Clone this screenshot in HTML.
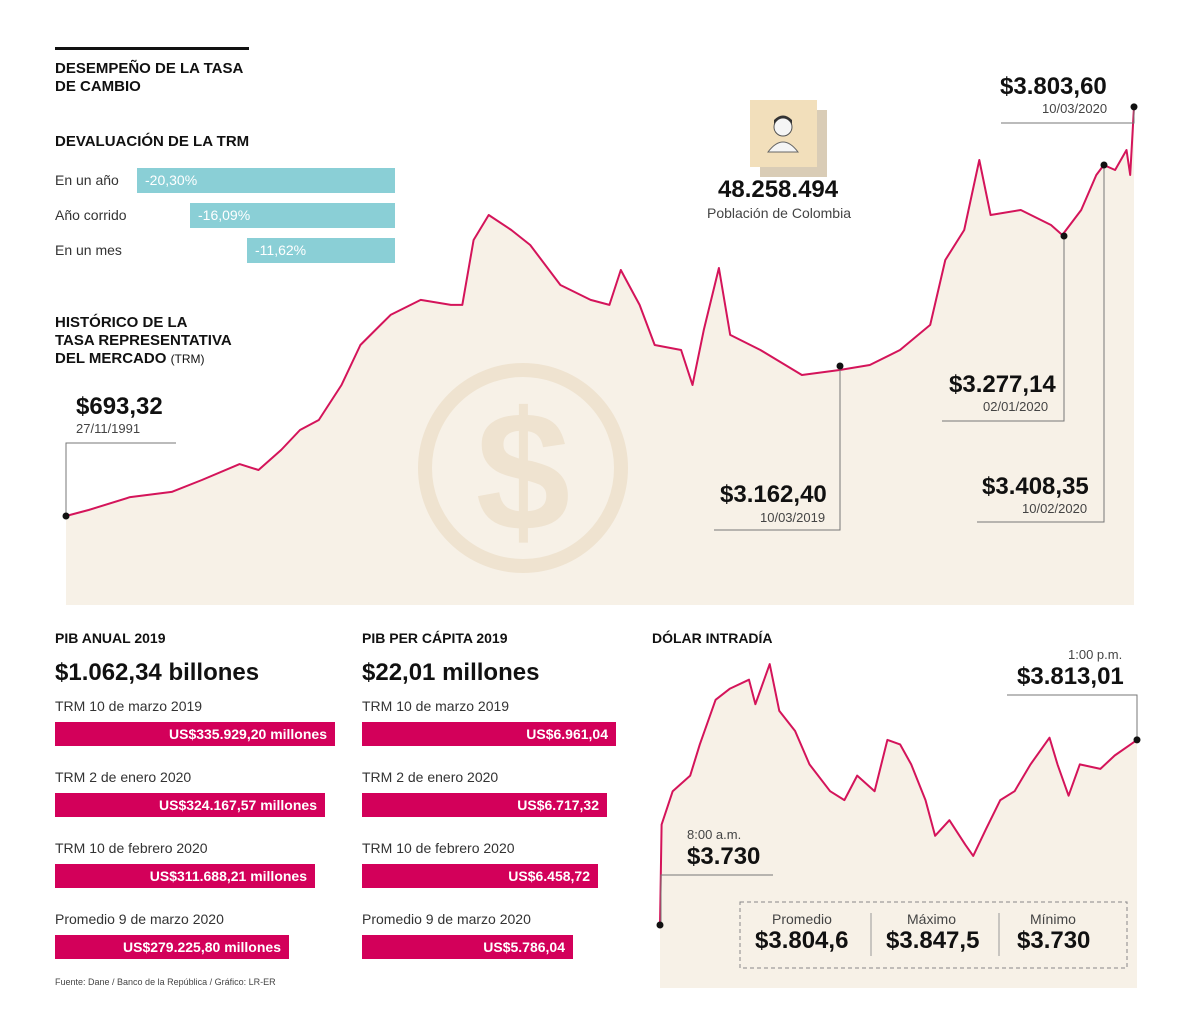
<!DOCTYPE html>
<html><head><meta charset="utf-8">
<style>
body{margin:0;width:1200px;height:1036px;background:#fff;position:relative;font-family:"Liberation Sans",sans-serif;color:#111;overflow:hidden}
.a{position:absolute;white-space:nowrap;z-index:2}
svg.a{z-index:0}
.h{font-weight:bold;font-size:15px;line-height:18px}
.lbl{font-size:14px;color:#333}
.tb{background:#8acfd6;color:#fff;font-size:14px;height:25px;line-height:25px;padding-left:8px;box-sizing:border-box}
.mb{background:#d3005a;color:#fff;font-weight:bold;font-size:14px;height:24px;line-height:24px;text-align:right;padding-right:8px;box-sizing:border-box}
.big{font-weight:bold;font-size:24px}
.sm{font-size:13px;color:#444}
</style></head><body>
<svg class="a" style="left:0;top:0" width="1200" height="1036">
<g id="main"></g>
<g fill="none" stroke="#efe3d0">
<circle cx="523" cy="468" r="98" stroke-width="14"/>
<text x="523" y="530" text-anchor="middle" font-size="170" font-weight="bold" fill="#efe3d0" stroke="none" font-family="Liberation Sans">$</text>
</g>
<g>
<polygon points="760,110 827,110 827,177 760,177" fill="#d9ccb6"/>
<rect x="750" y="100" width="67" height="67" fill="#f2dfbb"/>
<circle cx="783" cy="127" r="9" fill="#f5f5f5" stroke="#555" stroke-width="1"/>
<path d="M774 124 q9 -12 18 0 v-4 q-9 -9 -18 0z" fill="#333"/>
<path d="M768 152 q15 -20 30 0z" fill="#f5f5f5" stroke="#666"/>
</g>
<g id="intra"></g>
<rect x="740" y="902" width="387" height="66" fill="none" stroke="#888" stroke-dasharray="4,3"/>
<line x1="871" y1="913" x2="871" y2="956" stroke="#999"/>
<line x1="999" y1="913" x2="999" y2="956" stroke="#999"/>
</svg>

<div class="a" style="left:55px;top:47px;width:194px;height:3px;background:#111"></div>
<div class="a h" style="left:55px;top:60px">DESEMPEÑO DE LA TASA<br>DE CAMBIO</div>
<div class="a h" style="left:55px;top:133px">DEVALUACIÓN DE LA TRM</div>
<div class="a lbl" style="left:55px;top:172px">En un año</div>
<div class="a tb" style="left:137px;top:168px;width:258px">-20,30%</div>
<div class="a lbl" style="left:55px;top:207px">Año corrido</div>
<div class="a tb" style="left:190px;top:203px;width:205px">-16,09%</div>
<div class="a lbl" style="left:55px;top:242px">En un mes</div>
<div class="a tb" style="left:247px;top:238px;width:148px">-11,62%</div>
<div class="a h" style="left:55px;top:314px">HISTÓRICO DE LA<br>TASA REPRESENTATIVA<br>DEL MERCADO <span style="font-weight:normal;font-size:12px">(TRM)</span></div>

<div class="a" style="left:718px;top:176px;font-weight:bold;font-size:24px">48.258.494</div>
<div class="a sm" style="left:707px;top:205px;font-size:14px">Población de Colombia</div>

<div class="a big" style="left:76px;top:393px">$693,32</div>
<div class="a sm" style="left:76px;top:421px">27/11/1991</div>
<div class="a big" style="left:720px;top:481px">$3.162,40</div>
<div class="a sm" style="left:760px;top:510px">10/03/2019</div>
<div class="a big" style="left:949px;top:371px">$3.277,14</div>
<div class="a sm" style="left:983px;top:399px">02/01/2020</div>
<div class="a big" style="left:982px;top:473px">$3.408,35</div>
<div class="a sm" style="left:1022px;top:501px">10/02/2020</div>
<div class="a big" style="left:1000px;top:73px">$3.803,60</div>
<div class="a sm" style="left:1042px;top:101px">10/03/2020</div>

<div class="a h" style="left:55px;top:629px;font-size:14px">PIB ANUAL 2019</div>
<div class="a big" style="left:55px;top:659px">$1.062,34 billones</div>
<div class="a lbl" style="left:55px;top:698px">TRM 10 de marzo 2019</div>
<div class="a mb" style="left:55px;top:722px;width:280px">US$335.929,20 millones</div>
<div class="a lbl" style="left:55px;top:769px">TRM 2 de enero 2020</div>
<div class="a mb" style="left:55px;top:793px;width:270px">US$324.167,57 millones</div>
<div class="a lbl" style="left:55px;top:840px">TRM 10 de febrero 2020</div>
<div class="a mb" style="left:55px;top:864px;width:260px">US$311.688,21 millones</div>
<div class="a lbl" style="left:55px;top:911px">Promedio 9 de marzo 2020</div>
<div class="a mb" style="left:55px;top:935px;width:234px">US$279.225,80 millones</div>

<div class="a h" style="left:362px;top:629px;font-size:14px">PIB PER CÁPITA 2019</div>
<div class="a big" style="left:362px;top:659px">$22,01 millones</div>
<div class="a lbl" style="left:362px;top:698px">TRM 10 de marzo 2019</div>
<div class="a mb" style="left:362px;top:722px;width:254px">US$6.961,04</div>
<div class="a lbl" style="left:362px;top:769px">TRM 2 de enero 2020</div>
<div class="a mb" style="left:362px;top:793px;width:245px">US$6.717,32</div>
<div class="a lbl" style="left:362px;top:840px">TRM 10 de febrero 2020</div>
<div class="a mb" style="left:362px;top:864px;width:236px">US$6.458,72</div>
<div class="a lbl" style="left:362px;top:911px">Promedio 9 de marzo 2020</div>
<div class="a mb" style="left:362px;top:935px;width:211px">US$5.786,04</div>

<div class="a h" style="left:652px;top:629px;font-size:14px">DÓLAR INTRADÍA</div>
<div class="a sm" style="left:1068px;top:647px">1:00 p.m.</div>
<div class="a big" style="left:1017px;top:663px">$3.813,01</div>
<div class="a sm" style="left:687px;top:827px">8:00 a.m.</div>
<div class="a big" style="left:687px;top:843px">$3.730</div>
<div class="a sm" style="left:772px;top:911px;font-size:14px">Promedio</div>
<div class="a big" style="left:755px;top:927px">$3.804,6</div>
<div class="a sm" style="left:907px;top:911px;font-size:14px">Máximo</div>
<div class="a big" style="left:886px;top:927px">$3.847,5</div>
<div class="a sm" style="left:1030px;top:911px;font-size:14px">Mínimo</div>
<div class="a big" style="left:1017px;top:927px">$3.730</div>
<div class="a" style="left:55px;top:977px;font-size:9px;color:#444">Fuente: Dane / Banco de la República / Gráfico: LR-ER</div>

<script>
const trmYears=[1991.9,1992.5,1993.6,1994.7,1995.5,1996.5,1997.0,1997.6,1998.1,1998.6,1999.2,1999.7,2000.5,2001.3,2002.1,2002.4,2002.7,2003.1,2003.7,2004.2,2005.0,2005.8,2006.3,2006.6,2007.1,2007.5,2008.2,2008.5,2008.8,2009.2,2009.5,2010.3,2011.4,2012.4,2013.2,2014.0,2014.8,2015.2,2015.7,2016.1,2016.4,2017.2,2018.0,2018.3,2018.8,2019.2,2019.4,2019.7,2020.0,2020.1,2020.2];
const trmValues=[693,739,837,876,967,1088,1043,1195,1347,1423,1689,1993,2222,2336,2298,2298,2792,2982,2868,2754,2450,2336,2298,2564,2298,1993,1955,1689,2108,2579,2070,1955,1765,1803,1841,1955,2146,2640,2868,3400,2982,3020,2906,2830,3020,3286,3362,3324,3476,3286,3804];
const intraMinutes=[0,1,8,19,25,35,44,56,60,69,75,85,94,107,116,124,135,143,151,158,167,173,182,192,197,205,214,223,233,245,250,257,264,277,286,296,300];
const intraValues=[3730,3775,3790,3797,3811,3831,3836,3840,3829,3847,3826,3817,3802,3790,3786,3797,3790,3813,3811,3802,3786,3770,3777,3766,3761,3773,3786,3790,3802,3814,3802,3788,3802,3800,3806,3811,3813];
const NS='http://www.w3.org/2000/svg';
function mk(t,a,p){const e=document.createElementNS(NS,t);for(const k in a)e.setAttribute(k,a[k]);p.appendChild(e);return e;}
const mx=y=>66+(y-1991.9)/(2020.2-1991.9)*1068;
const my=v=>516-(v-693)*0.1315;
const g=document.getElementById('main');
let pts=trmYears.map((y,i)=>[mx(y),my(trmValues[i])]);
let d='M'+pts.map(p=>p[0].toFixed(1)+','+p[1].toFixed(1)).join('L');
const fill=mk('path',{d:d+'L1134,605L66,605Z',fill:'#f7f1e7'},g);


const line=mk('path',{d:d,fill:'none',stroke:'#d4145a','stroke-width':2,'stroke-linejoin':'round'},g);


function callout(px,py,ly,x2,name){
 const l=mk('polyline',{points:`${px},${py} ${px},${ly} ${x2},${ly}`,fill:'none',stroke:'#777','stroke-width':1},g);
 
 
 const c=mk('circle',{cx:px,cy:py,r:3.5,fill:'#111'},g);
 
 
}
callout(mx(trmYears[0]),my(trmValues[0]),443,176,'ann-1991');
callout(840,366,530,714,'ann-2019');
callout(1064,236,421,942,'ann-jan2020');
callout(1104,165,522,977,'ann-feb2020');
callout(mx(trmYears[trmYears.length-1]),my(trmValues[trmValues.length-1]),123,1001,'ann-mar2020');
const ix=m=>660+m/300*477;
const iy=v=>925-(v-3730)*2.23;
const h=document.getElementById('intra');
let ip=intraMinutes.map((m,i)=>[ix(m),iy(intraValues[i])]);
let id='M'+ip.map(p=>p[0].toFixed(1)+','+p[1].toFixed(1)).join('L');
const fa=mk('path',{d:id+'L1137,988L660,988Z',fill:'#f7f1e7'},h);


const il=mk('path',{d:id,fill:'none',stroke:'#d4145a','stroke-width':2,'stroke-linejoin':'round'},h);


const l1=mk('polyline',{points:'661,925 661,875 773,875',fill:'none',stroke:'#777'},h);


const l2=mk('polyline',{points:'1137,740 1137,695 1007,695',fill:'none',stroke:'#777'},h);


const c1=mk('circle',{cx:ix(intraMinutes[0]),cy:iy(intraValues[0]),r:3.5,fill:'#111'},h);


const c2=mk('circle',{cx:ix(intraMinutes[intraMinutes.length-1]),cy:iy(intraValues[intraValues.length-1]),r:3.5,fill:'#111'},h);


</script>
</body></html>
